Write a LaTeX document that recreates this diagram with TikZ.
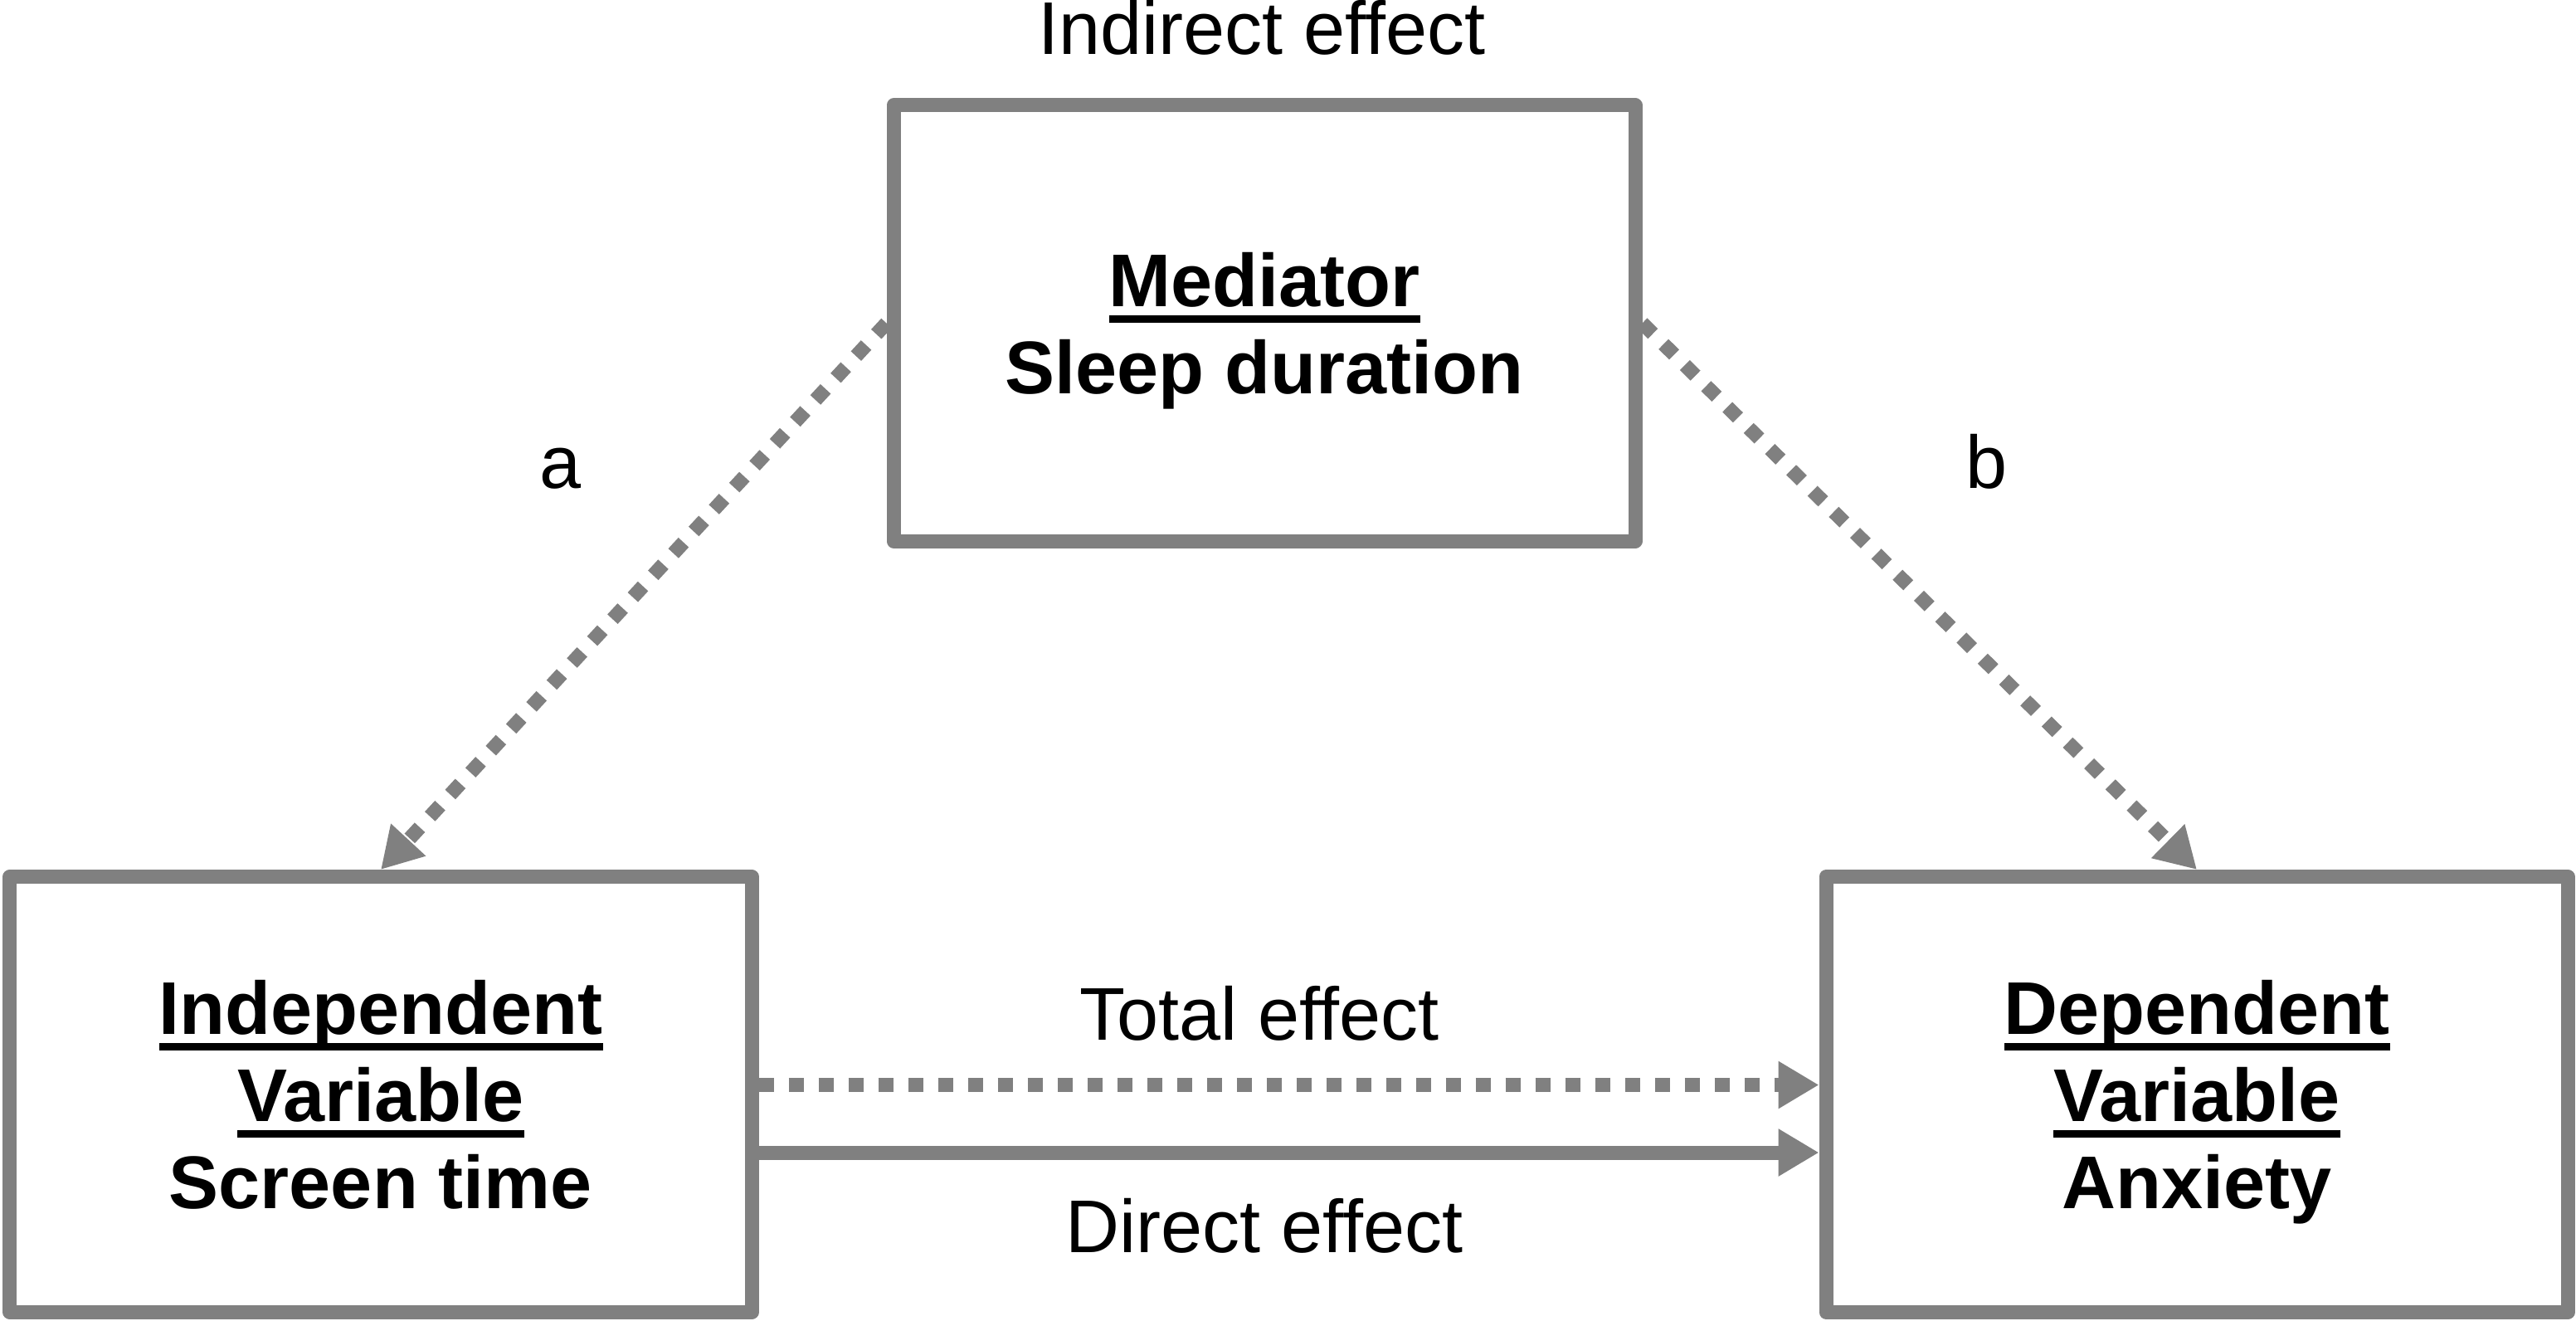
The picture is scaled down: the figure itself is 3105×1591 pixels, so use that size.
\documentclass[tikz,border=0pt]{standalone}
\usepackage{fontspec}
\setmainfont{Liberation Sans}
\usetikzlibrary{arrows.meta}
\definecolor{linegray}{RGB}{128,128,128}
\newcommand{\ulword}[1]{\setbox0\hbox{#1}\rlap{\smash{\rule[-19.5bp]{\wd0}{9.5bp}}}\box0}
\tikzset{
  varbox/.style={draw=linegray, line width=17bp, line join=round, fill=white,
    minimum width=894bp, minimum height=525bp, inner sep=0pt, align=center, text depth=0pt,
    font=\fontsize{90bp}{105bp}\selectfont\bfseries},
  lbl/.style={font=\fontsize{90bp}{105bp}\selectfont, anchor=base, inner sep=0pt},
  conn/.style={draw=linegray, line width=17bp, -{Triangle[length=49bp,width=54bp]}},
  dots/.style={dash pattern=on 18bp off 18bp}
}
\begin{document}
\begin{tikzpicture}[x=1bp,y=-1bp]
  \useasboundingbox (0,0) rectangle (3105,1591);
  \node[varbox] (med) at (1524,389.5) {\ulword{Mediator}\\Sleep duration};
  \node[varbox] (iv) at (459,1319) {\ulword{Independent}\\\ulword{Variable}\\Screen time};
  \node[varbox] (dv) at (2648,1319) {\ulword{Dependent}\\\ulword{Variable}\\Anxiety};

  \node[lbl] (lindirect) at (1521,65.7) {Indirect effect};
  \node[lbl] (la) at (675.5,588) {a};
  \node[lbl] (lb) at (2394,588) {b};
  \node[lbl] (ltotal) at (1518,1253) {Total effect};
  \node[lbl] (ldirect) at (1524,1509) {Direct effect};

  \draw[conn,dots] (med.west) -- (iv.north);
  \draw[conn,dots] (med.east) -- (dv.north);
  \draw[conn,dots] ([yshift=11.5bp]iv.east) -- ([yshift=11.5bp]dv.west);
  \draw[conn] ([yshift=-70bp]iv.east) -- ([yshift=-70bp]dv.west);
\end{tikzpicture}
\end{document}
